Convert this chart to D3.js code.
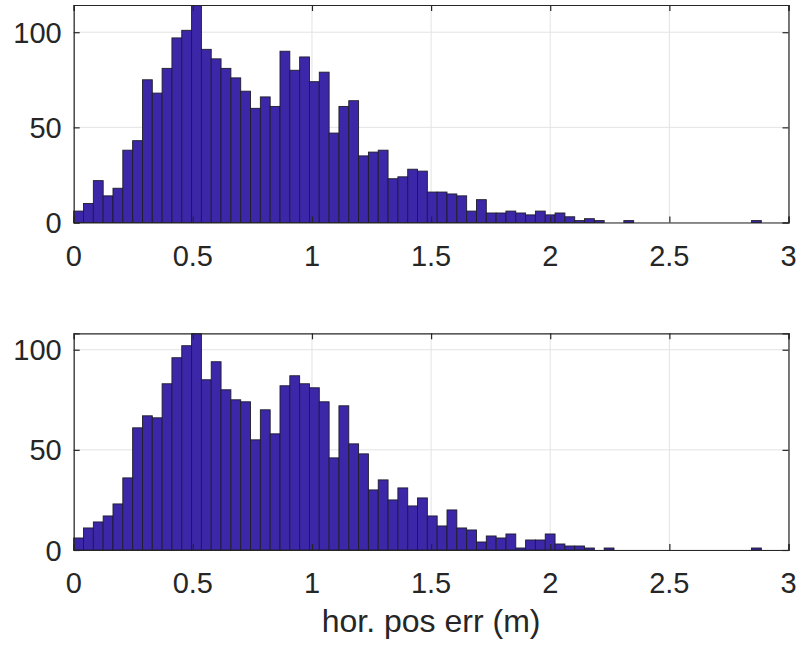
<!DOCTYPE html>
<html>
<head>
<meta charset="utf-8">
<script src="https://cdn.jsdelivr.net/npm/d3@7"></script>
<style>
  html, body { margin: 0; padding: 0; background: #fff; }
  svg { display: block; }
  text { font-family: "Liberation Sans", Arial, Helvetica, sans-serif; fill: #262626; }
</style>
</head>
<body>
<svg id="chart" width="804" height="650"></svg>
<script>
// ---------------- data ----------------
const binStart = 0;
const binWidth = 0.04123;           // 70 bins spanning ~0 .. 2.886 m
const countsTop = [6,10,22,14,18,38,43,75,68,81,
                   97,101,114,91,86,81,76,69,60,66,
                   61,90,80,87,74,79,47,61,64,35,
                   37,38,23,24,28,27,16,16,15,14,
                   6,12,5,5,6,5,4,6,4,5,
                   3,1,2,1,0,0,1,0,0,0,
                   0,0,0,0,0,0,0,0,0,1];
const countsBottom = [6,11,14,17,23,36,61,67,66,83,
                      96,102,108,85,94,80,75,74,55,70,
                      58,82,87,83,81,74,46,72,53,48,
                      30,35,25,31,22,26,17,12,20,11,
                      10,4,7,6,8,1,5,5,8,3,
                      2,2,1,0,1,0,0,0,0,0,
                      0,0,0,0,0,0,0,0,0,1];
const xTicks = [0, 0.5, 1, 1.5, 2, 2.5, 3];
const xTickLabels = ["0", "0.5", "1", "1.5", "2", "2.5", "3"];
const yTicks = [0, 50, 100];
const yMaxTop = 114.3;
const yMaxBottom = 108.2;
const xLabel = "hor. pos err (m)";

// ---------------- layout ----------------
const svg = d3.select("#chart");
const left = 73.7, right = 788.5;
const panels = [
  { counts: countsTop,    top: 5,     bottom: 222.5, ymax: yMaxTop },
  { counts: countsBottom, top: 333.3, bottom: 550,   ymax: yMaxBottom }
];
const x = d3.scaleLinear().domain([0, 3]).range([left, right]);
const barFill = "#3b27a8";
const edge = "#1e1e2a";
const axisColor = "#262626";
const gridColor = "#e3e3e3";
const tickFont = 29;

panels.forEach((p, pi) => {
  const y = d3.scaleLinear().domain([0, p.ymax]).range([p.bottom, p.top]);
  const g = svg.append("g");

  // background
  g.append("rect").attr("x", left).attr("y", p.top)
    .attr("width", right - left).attr("height", p.bottom - p.top).attr("fill", "#fff");

  // grid
  g.append("g").selectAll("line.vg").data(xTicks).join("line")
    .attr("x1", d => x(d)).attr("x2", d => x(d))
    .attr("y1", p.top).attr("y2", p.bottom)
    .attr("stroke", gridColor).attr("stroke-width", 1);
  g.append("g").selectAll("line.hg").data(yTicks).join("line")
    .attr("x1", left).attr("x2", right)
    .attr("y1", d => y(d)).attr("y2", d => y(d))
    .attr("stroke", gridColor).attr("stroke-width", 1);

  // bars
  const bins = p.counts.map((c, i) => ({
    x0: binStart + i * binWidth, x1: binStart + (i + 1) * binWidth, c }));
  g.append("g").selectAll("rect").data(bins.filter(b => b.c > 0)).join("rect")
    .attr("x", d => x(d.x0))
    .attr("width", d => x(d.x1) - x(d.x0))
    .attr("y", d => y(d.c))
    .attr("height", d => y(0) - y(d.c))
    .attr("fill", barFill)
    .attr("stroke", edge)
    .attr("stroke-width", 0.9);

  // axes with inward ticks (MATLAB style, box on)
  const tl = 6;
  const bottomAxis = d3.axisBottom(x).tickValues(xTicks).tickSize(-tl).tickFormat("");
  const topAxis = d3.axisTop(x).tickValues(xTicks).tickSize(-tl).tickFormat("");
  const leftAxis = d3.axisLeft(y).tickValues(yTicks).tickSize(-tl).tickFormat("");
  const rightAxis = d3.axisRight(y).tickValues(yTicks).tickSize(-tl).tickFormat("");
  [[bottomAxis, `translate(0,${p.bottom})`], [topAxis, `translate(0,${p.top})`],
   [leftAxis, `translate(${left},0)`], [rightAxis, `translate(${right},0)`]].forEach(([ax, tr]) => {
    const a = g.append("g").attr("transform", tr).call(ax);
    a.selectAll("path.domain").attr("stroke", axisColor).attr("stroke-width", 1.2);
    a.selectAll(".tick line").attr("stroke", axisColor).attr("stroke-width", 1.2);
  });

  // tick labels
  g.append("g").selectAll("text").data(xTicks).join("text")
    .attr("x", d => x(d)).attr("y", p.bottom + 43)
    .attr("text-anchor", "middle").attr("font-size", tickFont)
    .text((d, i) => xTickLabels[i]);
  g.append("g").selectAll("text").data(yTicks).join("text")
    .attr("x", left - 12).attr("y", d => y(d) + 10.5)
    .attr("text-anchor", "end").attr("font-size", tickFont)
    .text(d => d);

  if (pi === 1) {
    g.append("text").attr("x", (left + right) / 2).attr("y", 632)
      .attr("text-anchor", "middle").attr("font-size", 32).text(xLabel);
  }
});
</script>
</body>
</html>
